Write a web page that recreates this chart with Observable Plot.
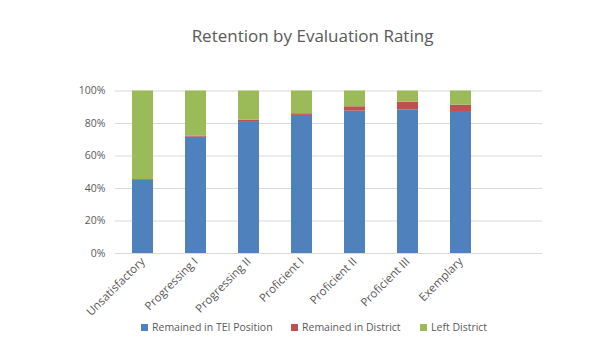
<!DOCTYPE html>
<html><head><meta charset="utf-8">
<script src="https://cdn.jsdelivr.net/npm/d3@7"></script>
<script src="https://cdn.jsdelivr.net/npm/@observablehq/plot@0.6"></script>
<style>
body{margin:0;background:#fff;font-family:"Open Sans",sans-serif;}
#wrap{position:relative;width:603px;height:361px;}
#title{position:absolute;left:0;top:24px;width:625px;text-align:center;font-size:17px;color:#595959;}
#legend{position:absolute;left:0;top:320px;width:603px;font-size:10.5px;color:#595959;}
#legend span.item{position:absolute;top:0;white-space:nowrap;}
#legend i{display:inline-block;width:7px;height:7px;margin-right:4px;vertical-align:0px;}
#chart{position:absolute;left:0;top:60px;}
#chart svg{overflow:visible;}
</style></head>
<body><div id="wrap">
<div id="title">Retention by Evaluation Rating</div>
<div id="chart"></div>
<div id="legend"></div>
</div>
<script>
const categories = ["Unsatisfactory","Progressing I","Progressing II","Proficient I","Proficient II","Proficient III","Exemplary"];
const seriesNames = ["Remained in TEI Position","Remained in District","Left District"];
const remainedTEI = [0.45, 0.716, 0.812, 0.85, 0.876, 0.884, 0.874];
const remainedDistrict = [0.005, 0.007, 0.008, 0.01, 0.027, 0.047, 0.039];
const leftDistrict = [0.545, 0.277, 0.18, 0.14, 0.097, 0.069, 0.087];
const colors = ["#4F81BD","#C0504D","#9BBB59"];
const yTicks = [0,0.2,0.4,0.6,0.8,1];

const data = [];
categories.forEach((c,i)=>{
  [remainedTEI, remainedDistrict, leftDistrict].forEach((arr,k)=>{
    data.push({cat:c, series:seriesNames[k], value:arr[i]});
  });
});

const plot = Plot.plot({
  width:603, height:262,
  marginLeft:115, marginRight:61, marginTop:30.5, marginBottom:69,
  style:{fontFamily:"Open Sans, sans-serif", fontSize:"10.5px", color:"#595959", background:"transparent"},
  x:{domain:[...categories, " "], paddingInner:0.6, paddingOuter:0.3, label:null},
  y:{domain:[0,1], label:null},
  color:{domain:seriesNames, range:colors},
  marks:[
    Plot.ruleY(yTicks,{stroke:"#d9d9d9", strokeWidth:1}),
    Plot.barY(data, Plot.stackY({x:"cat", y:"value", fill:"series", order:seriesNames})),
    Plot.axisY({ticks:yTicks, tickFormat:d3.format(".0%"), tickSize:0, tickPadding:10, label:null}),
    Plot.axisX({tickSize:0, tickRotate:-45, tickPadding:6, label:null, fontSize:11.5, tickFormat:d=>d.trim()})
  ]
});
document.getElementById("chart").appendChild(plot);

const legend = document.getElementById("legend");
const lx = [141, 291, 420];
seriesNames.forEach((s,k)=>{
  const sp = document.createElement("span");
  sp.className="item";
  sp.style.left = lx[k]+"px";
  sp.innerHTML = `<i style="background:${colors[k]}"></i>${s}`;
  legend.appendChild(sp);
});
</script>
</body></html>
